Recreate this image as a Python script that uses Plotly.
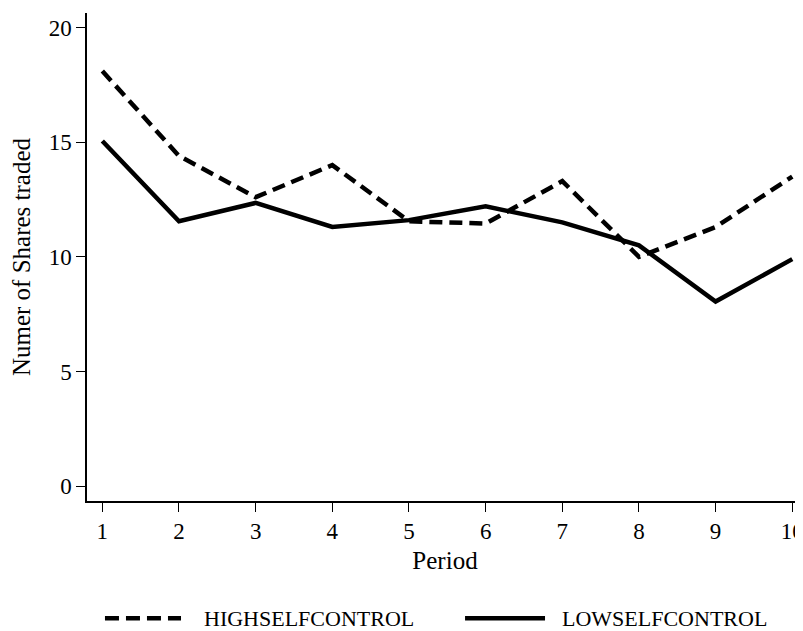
import plotly.graph_objects as go

periods = [1, 2, 3, 4, 5, 6, 7, 8, 9, 10]
high_self_control = [18.1, 14.4, 12.6, 14.0, 11.55, 11.45, 13.3, 10.0, 11.3, 13.5]
low_self_control = [15.05, 11.55, 12.35, 11.3, 11.6, 12.2, 11.5, 10.5, 8.05, 9.9]
x_ticks = [1, 2, 3, 4, 5, 6, 7, 8, 9, 10]
y_ticks = [0, 5, 10, 15, 20]
series_names = ["HIGHSELFCONTROL", "LOWSELFCONTROL"]

FONT = "Liberation Serif"

fig = go.Figure()
fig.add_trace(go.Scatter(
    x=periods, y=high_self_control, mode="lines", name=series_names[0],
    line=dict(color="black", width=4.5, dash="13px,7px"), showlegend=False,
))
fig.add_trace(go.Scatter(
    x=periods, y=low_self_control, mode="lines", name=series_names[1],
    line=dict(color="black", width=4.5), showlegend=False,
))

# custom legend (long line samples as in the reference)
leg_y = -0.2405
fig.add_shape(type="line", xref="paper", yref="paper", x0=0.0251, x1=0.1313,
              y0=leg_y, y1=leg_y, line=dict(color="black", width=4.5, dash="14px,7px"))
fig.add_shape(type="line", xref="paper", yref="paper", x0=0.528, x1=0.6397,
              y0=leg_y, y1=leg_y, line=dict(color="black", width=4.5))
fig.add_annotation(text=series_names[0], xref="paper", yref="paper", x=0.1606, y=leg_y,
                   xanchor="left", yanchor="middle", showarrow=False,
                   font=dict(family=FONT, size=22, color="black"))
fig.add_annotation(text=series_names[1], xref="paper", yref="paper", x=0.6606, y=leg_y,
                   xanchor="left", yanchor="middle", showarrow=False,
                   font=dict(family=FONT, size=22, color="black"))

# page body has an 8px margin; margins are set so the plot sits where the reference's does
fig.update_layout(
    width=803, height=623,
    margin=dict(l=79, r=8, t=5, b=129.5, pad=0),
    paper_bgcolor="white", plot_bgcolor="white",
    font=dict(family=FONT, size=22, color="black"),
    showlegend=False,
    xaxis=dict(
        range=[0.80, 10.14], tickvals=x_ticks, ticktext=[str(t) for t in x_ticks],
        showline=True, linecolor="black", linewidth=1.5,
        ticks="outside", ticklen=9, tickwidth=1.2, tickcolor="black",
        showgrid=False, zeroline=False, automargin=False,
        ticklabeloverflow="allow",
        title=dict(text="Period", font=dict(family=FONT, size=25), standoff=8),
        tickfont=dict(family=FONT, size=23),
    ),
    yaxis=dict(
        range=[-0.645, 20.63], tickvals=y_ticks, ticktext=[str(t) for t in y_ticks],
        showline=True, linecolor="black", linewidth=1.5,
        ticks="outside", ticklen=9, tickwidth=1.2, tickcolor="black",
        showgrid=False, zeroline=False, automargin=False,
        title=dict(text="Numer of Shares traded", font=dict(family=FONT, size=25), standoff=14),
        tickfont=dict(family=FONT, size=23),
    ),
)

fig.write_html("out.html")
